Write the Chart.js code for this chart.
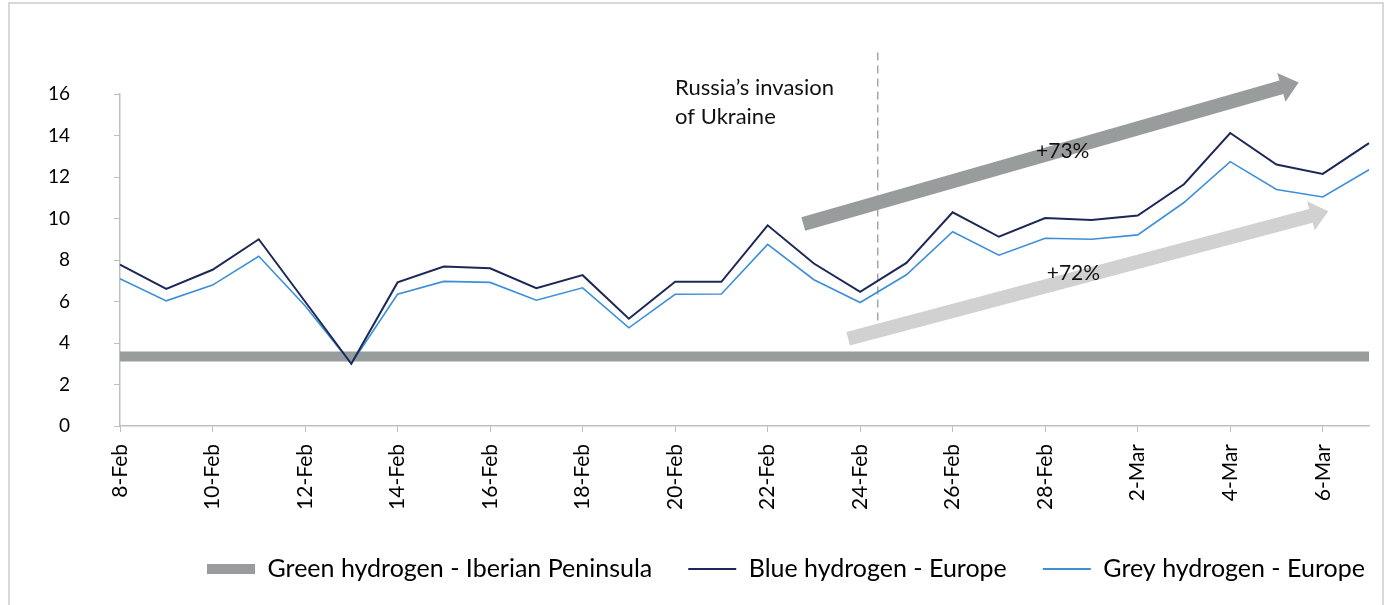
<!DOCTYPE html>
<html>
<head>
<meta charset="utf-8">
<script src="https://cdn.jsdelivr.net/npm/chart.js@4.4.0/dist/chart.umd.min.js"></script>
<style>
  body { margin: 0; background: #fff; }
  #frame { position: absolute; left: 8px; top: 2px; width: 1376px; height: 620px; border: 2px solid #d9d9d9; box-sizing: border-box; }
  #wrap { position: absolute; left: 0; top: 0; width: 1389px; height: 605px; }
</style>
</head>
<body>
<div id="frame"></div>
<div id="wrap"><canvas id="abc"></canvas></div>
<script>
const days = ["8-Feb","9-Feb","10-Feb","11-Feb","12-Feb","13-Feb","14-Feb","15-Feb","16-Feb","17-Feb","18-Feb","19-Feb","20-Feb","21-Feb","22-Feb","23-Feb","24-Feb","25-Feb","26-Feb","27-Feb","28-Feb","1-Mar","2-Mar","3-Mar","4-Mar","5-Mar","6-Mar","7-Mar"];
const greenValues = [3.35,3.35,3.35,3.35,3.35,3.35,3.35,3.35,3.35,3.35,3.35,3.35,3.35,3.35,3.35,3.35,3.35,3.35,3.35,3.35,3.35,3.35,3.35,3.35,3.35,3.35,3.35,3.35];
const blueValues = [7.78,6.61,7.53,9.0,6.0,3.0,6.92,7.69,7.6,6.64,7.27,5.17,6.95,6.95,9.67,7.83,6.47,7.86,10.3,9.12,10.02,9.93,10.14,11.65,14.12,12.6,12.15,13.63];
const greyValues = [7.1,6.03,6.79,8.18,5.8,3.0,6.35,6.97,6.92,6.06,6.66,4.73,6.35,6.36,8.75,7.05,5.95,7.29,9.36,8.23,9.05,9.0,9.21,10.77,12.74,11.4,11.04,12.35];
const yTicks = [0,2,4,6,8,10,12,14,16];

// annotations in data units (x = day index, y = value)
const invasionAt = 16.38;
const arrowDark = {from: [14.77, 9.73], to: [25.48, 16.56], color: "#999c9c", label: "+73%", labelAt: [20.38, 13.23]};
const arrowLight = {from: [15.74, 4.2], to: [26.12, 10.35], color: "#d0d1d0", label: "+72%", labelAt: [20.61, 7.35]};

function drawArrow(ctx, x1, y1, x2, y2, shaft, headW, headL, color) {
  const dx = x2 - x1, dy = y2 - y1;
  const len = Math.sqrt(dx*dx + dy*dy);
  const ux = dx/len, uy = dy/len, nx = -uy, ny = ux;
  const bx = x2 - ux*headL, by = y2 - uy*headL;
  ctx.save();
  ctx.fillStyle = color;
  ctx.beginPath();
  ctx.moveTo(x1 + nx*shaft/2, y1 + ny*shaft/2);
  ctx.lineTo(bx + nx*shaft/2, by + ny*shaft/2);
  ctx.lineTo(bx + nx*headW/2, by + ny*headW/2);
  ctx.lineTo(x2, y2);
  ctx.lineTo(bx - nx*headW/2, by - ny*headW/2);
  ctx.lineTo(bx - nx*shaft/2, by - ny*shaft/2);
  ctx.lineTo(x1 - nx*shaft/2, y1 - ny*shaft/2);
  ctx.closePath();
  ctx.fill();
  ctx.restore();
}

const legendPad = 36;
const extras = {
  id: "extras",
  afterLayout(chart) {
    // keep the legend on one row, placed like the original
    const lg = chart.legend;
    lg.left = 207 - legendPad;
    lg.right = 1600;
    lg.top = 569 - 12.5 - legendPad;
  },
  beforeDatasetsDraw(chart) {
    const ctx = chart.ctx, x = chart.scales.x, y = chart.scales.y;
    const px = x.getPixelForValue(invasionAt);
    ctx.save();
    ctx.strokeStyle = "#a6a6a6";
    ctx.lineWidth = 1.5;
    ctx.setLineDash([8, 5]);
    ctx.beginPath();
    ctx.moveTo(px, y.getPixelForValue(18));
    ctx.lineTo(px, y.getPixelForValue(4.65));
    ctx.stroke();
    ctx.restore();
  },
  afterDatasetsDraw(chart) {
    const ctx = chart.ctx, x = chart.scales.x, y = chart.scales.y;
    [arrowDark, arrowLight].forEach(a => {
      drawArrow(ctx, x.getPixelForValue(a.from[0]), y.getPixelForValue(a.from[1]),
        x.getPixelForValue(a.to[0]), y.getPixelForValue(a.to[1]), 14, 30, 18, a.color);
    });
    ctx.save();
    ctx.fillStyle = "#111";
    ctx.font = "21px Lato";
    ctx.textBaseline = "middle";
    ctx.textAlign = "center";
    [arrowDark, arrowLight].forEach(a => {
      ctx.fillText(a.label, x.getPixelForValue(a.labelAt[0]), y.getPixelForValue(a.labelAt[1]));
    });
    ctx.font = "22px Lato";
    ctx.textAlign = "left";
    ctx.textBaseline = "alphabetic";
    ctx.fillText("Russia\u2019s invasion", x.getPixelForValue(12), y.getPixelForValue(15.93));
    ctx.fillText("of Ukraine", x.getPixelForValue(12), y.getPixelForValue(14.57));
    ctx.restore();
  }
};

var a = document.getElementById("abc");
new Chart(a, {
  type: "line",
  data: {
    labels: days,
    datasets: [
      {label: "Green hydrogen - Iberian Peninsula", data: greenValues, borderColor: "#999c9c", backgroundColor: "#999c9c", borderWidth: 10, pointRadius: 0, order: 3, legendWidth: 10},
      {label: "Blue hydrogen - Europe", data: blueValues, borderColor: "#1c2856", backgroundColor: "#1c2856", borderWidth: 2, pointRadius: 0, order: 1, legendWidth: 2},
      {label: "Grey hydrogen - Europe", data: greyValues, borderColor: "#3d8fd8", backgroundColor: "#3d8fd8", borderWidth: 1.6, pointRadius: 0, order: 2, legendWidth: 2}
    ]
  },
  options: {
    responsive: true,
    maintainAspectRatio: false,
    animation: false,
    layout: {padding: {top: 94, right: 20, bottom: 0, left: 0}},
    scales: {
      x: {
        offset: false,
        grid: {drawOnChartArea: false, drawTicks: true, tickLength: 6, color: "#bfbfbf"},
        border: {color: "#bfbfbf", width: 1.5},
        ticks: {
          autoSkip: false, maxRotation: 90, minRotation: 90, padding: 12, color: "#000",
          font: {family: "Lato", size: 21},
          callback: function(v, i) { return i % 2 === 0 ? days[i] : null; }
        },
        afterFit: function(s) { s.height = 108; }
      },
      y: {
        min: 0, max: 16,
        afterBuildTicks: function(s) { s.ticks = yTicks.map(v => ({value: v})); },
        grid: {drawOnChartArea: false, drawTicks: true, tickLength: 6, color: "#bfbfbf"},
        border: {color: "#bfbfbf", width: 1.5},
        ticks: {color: "#000", padding: 44, font: {family: "Lato", size: 19}},
        afterFit: function(s) { s.width = 120; }
      }
    },
    plugins: {
      tooltip: {enabled: false},
      legend: {
        position: "bottom",
        align: "start",
        labels: {
          usePointStyle: true,
          pointStyleWidth: 48,
          padding: legendPad,
          color: "#000",
          font: {family: "Lato", size: 25},
          generateLabels: function(chart) {
            return chart.data.datasets.map((ds, i) => ({
              text: ds.label, strokeStyle: ds.borderColor, fillStyle: ds.borderColor,
              lineWidth: ds.legendWidth, pointStyle: "line", datasetIndex: i, hidden: false
            }));
          }
        }
      }
    }
  },
  plugins: [extras]
});
</script>
</body>
</html>
